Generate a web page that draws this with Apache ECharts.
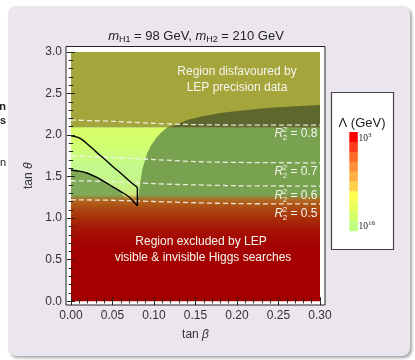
<!DOCTYPE html>
<html><head><meta charset="utf-8">
<script src="https://cdn.jsdelivr.net/npm/echarts@6/dist/echarts.min.js"></script>
<style>html,body{margin:0;padding:0;background:#fff}#c{width:415px;height:360px}</style>
</head><body><div id="c"></div>
<script>
// ---- axis ticks ----
const xTicks = [0, 0.05, 0.10, 0.15, 0.20, 0.25, 0.30];
const xMinor = [0.01,0.02,0.03,0.04,0.06,0.07,0.08,0.09,0.11,0.12,0.13,0.14,0.16,0.17,0.18,0.19,0.21,0.22,0.23,0.24,0.26,0.27,0.28,0.29];
const yTicks = [0, 0.5, 1.0, 1.5, 2.0, 2.5, 3.0];
const yMinor = [0.1,0.2,0.3,0.4,0.6,0.7,0.8,0.9,1.1,1.2,1.3,1.4,1.6,1.7,1.8,1.9,2.1,2.2,2.3,2.4,2.6,2.7,2.8,2.9];

// ---- regions (tanβ, tanθ) ----
const oliveRegion = [[0,2.09],[0.30,2.09],[0.30,3.0],[0,3.0]];
const greenBand = [[0,1.18],[0.30,1.18],[0.30,2.09],[0,2.09]];
const lightRegion = [[0,2.09],[0.116,2.09],[0.110,2.04],[0.104,1.98],[0.097,1.88],[0.092,1.78],[0.089,1.68],[0.086,1.58],[0.084,1.45],[0.082,1.30],[0.081,1.22],[0.066,1.22],[0.06,1.32],[0.05,1.38],[0.04,1.44],[0.03,1.495],[0.02,1.54],[0.01,1.565],[0,1.58]];
const darkGreenRegion = [[0.081,1.18],[0.082,1.30],[0.084,1.45],[0.086,1.58],[0.089,1.68],[0.092,1.78],[0.097,1.88],[0.104,1.98],[0.110,2.04],[0.116,2.09],[0.30,2.09],[0.30,1.18]];
const darkOliveRegion = [[0.116,2.09],[0.122,2.11],[0.13,2.14],[0.14,2.18],[0.156,2.22],[0.18,2.265],[0.20,2.29],[0.236,2.325],[0.276,2.35],[0.30,2.36],[0.30,2.09]];
const excludedRegion = [[0,0],[0.30,0],[0.30,1.28],[0,1.28]];

// ---- boundary curves ----
const upperCurve = [[0,1.99],[0.01,1.965],[0.02,1.89],[0.03,1.80],[0.04,1.715],[0.05,1.625],[0.06,1.54],[0.07,1.45],[0.08,1.37]];
const lowerCurve = [[0,1.58],[0.01,1.565],[0.02,1.54],[0.03,1.495],[0.04,1.44],[0.05,1.38],[0.06,1.32],[0.07,1.255],[0.076,1.19],[0.08,1.15]];
const edgeSegment = [[0.08,1.37],[0.08,1.15]];

// ---- R2 contours ----
const r2Labels = ['0.8','0.7','0.6','0.5'];
const r2Contours = [
  [[0,2.18],[0.05,2.165],[0.10,2.14],[0.15,2.125],[0.20,2.12],[0.30,2.12]],
  [[0,1.75],[0.05,1.73],[0.10,1.705],[0.15,1.68],[0.20,1.67],[0.30,1.665]],
  [[0,1.45],[0.05,1.44],[0.10,1.415],[0.15,1.40],[0.20,1.39],[0.30,1.385]],
  [[0,1.22],[0.05,1.215],[0.10,1.20],[0.15,1.185],[0.20,1.175],[0.30,1.17]]
];

// ---- colour legend ----
const lambdaColors = ['#ff0000','#ff3a1a','#ff6a28','#ff8f38','#ffb040','#ffd048','#ffff50','#eaff58','#d4ff66','#c0ff80'];
const lambdaLabels = ['3','16'];

const chart = echarts.init(document.getElementById('c'), null, {renderer:'canvas'});
const G = echarts.graphic;

function poly(points, fill, z){
  return {type:'custom', silent:true, z:z, clip:true, data:[[0,0]],
    renderItem:(params, api)=>({type:'polygon', shape:{points: points.map(p=>api.coord(p))}, style:{fill:fill}})};
}

const XMIN=-0.006, XMAX=0.306, YMIN=-0.045, YMAX=3.065;
const tickStyle = {color:'#222', width:1};
function xAx(pos, major){
  return {type:'value', position:pos, min:XMIN, max:XMAX, z:10,
    axisLine:{show:false}, splitLine:{show:false},
    axisTick:{show:true, inside:true, length: major?4:2.2, customValues: major?xTicks:xMinor, lineStyle:tickStyle},
    axisLabel:{show: major && pos==='bottom', customValues:xTicks, formatter:v=>v.toFixed(2), color:'#333', fontSize:12, margin:5, fontFamily:'Liberation Sans'},
    name: (major && pos==='bottom') ? '{n|tan }{i|β}' : '',
    nameLocation:'middle', nameGap:24,
    nameTextStyle:{rich:{n:{fontSize:12,color:'#333',fontFamily:'Liberation Sans'}, i:{fontSize:12,color:'#333',fontStyle:'italic',fontFamily:'Liberation Sans'}}}
  };
}
function yAx(pos, major){
  return {type:'value', position:pos, min:YMIN, max:YMAX, z:10,
    axisLine:{show:false}, splitLine:{show:false},
    axisTick:{show:true, inside:true, length: major?4:2.2, customValues: major?yTicks:yMinor, lineStyle:tickStyle},
    axisLabel:{show: major && pos==='left', customValues:yTicks, formatter:v=>v.toFixed(1), color:'#333', fontSize:12, margin:4, fontFamily:'Liberation Sans'},
    name: (major && pos==='left') ? '{n|tan }{i|θ}' : '',
    nameLocation:'middle', nameGap:27, nameRotate:90,
    nameTextStyle:{rich:{n:{fontSize:12,color:'#333',fontFamily:'Liberation Sans'}, i:{fontSize:12,color:'#333',fontStyle:'italic',fontFamily:'Liberation Sans'}}}
  };
}

const series = [
  poly(oliveRegion, '#a4a53b', 1),
  poly(greenBand, '#80aa58', 1),
  poly(lightRegion, new G.LinearGradient(0,0,0,1,[
    {offset:0,color:'#d8ff66'},{offset:0.28,color:'#d0ff72'},{offset:0.56,color:'#c2f890'},{offset:0.85,color:'#c6f283'},{offset:1,color:'#e0d870'}]), 2),
  poly(darkGreenRegion, '#78a150', 2),
  poly(darkOliveRegion, '#5e682c', 2),
  poly(excludedRegion, new G.LinearGradient(0,0,0,1,[
    {offset:0,color:'rgba(165,120,45,0)'},
    {offset:0.031,color:'rgba(172,108,36,0.8)'},
    {offset:0.0625,color:'#b2621c'},
    {offset:0.125,color:'#ac4a12'},
    {offset:0.22,color:'#a82e08'},
    {offset:0.31,color:'#a51805'},
    {offset:0.41,color:'#a40802'},
    {offset:0.53,color:'#a40000'},
    {offset:1,color:'#a40000'}]), 3)
];
r2Contours.forEach(c=>series.push({type:'line', data:c, z:4, showSymbol:false, silent:true, smooth:0.3,
  lineStyle:{color:'rgba(245,245,240,0.9)', width:1.3, type:[5,3]}}));
[upperCurve, lowerCurve, edgeSegment].forEach(c=>series.push({type:'line', data:c, z:5, showSymbol:false, silent:true, smooth:0.3,
  lineStyle:{color:'#000', width:1.4}}));

const white = '#f6f6ee';
const FONT = 'Liberation Sans';
const mctx = document.createElement('canvas').getContext('2d');
function tw(t, font){ mctx.font = font; return mctx.measureText(t).width; }

const rLabelY = [134, 172, 196, 214];
const rRight = 317.5;
const graphics = [
  {type:'rect', z:-100, shape:{x:8,y:6,width:402,height:350,r:8}, style:{fill:'#ebe6ee', shadowBlur:3, shadowOffsetX:2, shadowOffsetY:2, shadowColor:'rgba(0,0,0,0.35)'}},
  {type:'text', z:100, x:6, y:107, style:{text:'n', font:'bold 11px '+FONT, fill:'#222', align:'right', verticalAlign:'middle'}},
  {type:'text', z:100, x:6, y:121, style:{text:'s', font:'bold 11px '+FONT, fill:'#222', align:'right', verticalAlign:'middle'}},
  {type:'text', z:100, x:6, y:163, style:{text:'n', font:'11px '+FONT, fill:'#222', align:'right', verticalAlign:'middle'}},
  {type:'text', z:100, x:196, y:36, style:{text:'{i|m}{s|H1}{n| = 98 GeV, }{i|m}{s|H2}{n| = 210 GeV}', align:'center', verticalAlign:'middle',
    rich:{i:{fontSize:13,fontStyle:'italic',fill:'#222',fontFamily:FONT}, s:{fontSize:9,fill:'#222',padding:[7,0,0,0],fontFamily:FONT}, n:{fontSize:13,fill:'#222',fontFamily:FONT}}}},
  {type:'text', z:100, x:237, y:72, style:{text:'Region disfavoured by', font:'12px '+FONT, fill:white, align:'center', verticalAlign:'middle'}},
  {type:'text', z:100, x:237, y:88, style:{text:'LEP precision data', font:'12px '+FONT, fill:white, align:'center', verticalAlign:'middle'}},
  {type:'text', z:100, x:201, y:242, style:{text:'Region excluded by LEP', font:'12px '+FONT, fill:white, align:'center', verticalAlign:'middle'}},
  {type:'text', z:100, x:203, y:258, style:{text:'visible & invisible Higgs searches', font:'12px '+FONT, fill:white, align:'center', verticalAlign:'middle'}},
  // legend box
  {type:'rect', z:50, shape:{x:331.5,y:92.5,width:62,height:157}, style:{fill:'#fff', stroke:'#444', lineWidth:1.2}},
  {type:'text', z:100, x:362, y:123, style:{text:'Λ (GeV)', font:'13px '+FONT, fill:'#222', align:'center', verticalAlign:'middle'}},
  {type:'text', z:100, x:358.5, y:138, style:{text:'{b|10}{p|'+lambdaLabels[0]+'}', verticalAlign:'middle', rich:{b:{fontSize:9.5,fontFamily:'Liberation Serif',fill:'#222'}, p:{fontSize:7,fontFamily:'Liberation Serif',fill:'#222',padding:[0,0,6,0]}}}},
  {type:'text', z:100, x:358.5, y:226, style:{text:'{b|10}{p|'+lambdaLabels[1]+'}', verticalAlign:'middle', rich:{b:{fontSize:9.5,fontFamily:'Liberation Serif',fill:'#222'}, p:{fontSize:7,fontFamily:'Liberation Serif',fill:'#222',padding:[0,0,6,0]}}}}
];
lambdaColors.forEach((c,i)=>graphics.push({type:'rect', z:60, shape:{x:349.3, y:132+i*9.9, width:8.5, height:10.2}, style:{fill:c}}));
r2Labels.forEach((l,i)=>{
  const tail = ' = ' + l;
  const wTail = tw(tail, '12px '+FONT);
  const wIdx = tw('2', '8px '+FONT);
  const xIdx = rRight - wTail - wIdx;
  const y = rLabelY[i];
  graphics.push({type:'text', z:100, x:rRight, y:y, style:{text:tail, font:'12px '+FONT, fill:white, align:'right', verticalAlign:'middle'}});
  graphics.push({type:'text', z:100, x:xIdx, y:y+3.5, style:{text:'2', font:'8px '+FONT, fill:white, align:'left', verticalAlign:'middle'}});
  graphics.push({type:'text', z:100, x:xIdx, y:y-4.5, style:{text:'2', font:'8px '+FONT, fill:white, align:'left', verticalAlign:'middle'}});
  graphics.push({type:'text', z:100, x:xIdx+0.5, y:y, style:{text:'R', font:'italic 12px '+FONT, fill:white, align:'right', verticalAlign:'middle'}});
});

chart.setOption({
  backgroundColor:'#ffffff',
  animation:false,
  grid:{left:66, right:90, top:46.5, bottom:55, show:true, backgroundColor:'#ffffff', borderColor:'#222', borderWidth:1},
  xAxis:[xAx('bottom',true), xAx('bottom',false), xAx('top',true), xAx('top',false)],
  yAxis:[yAx('left',true), yAx('left',false), yAx('right',true), yAx('right',false)],
  series: series,
  graphic: graphics
});
</script></body></html>
